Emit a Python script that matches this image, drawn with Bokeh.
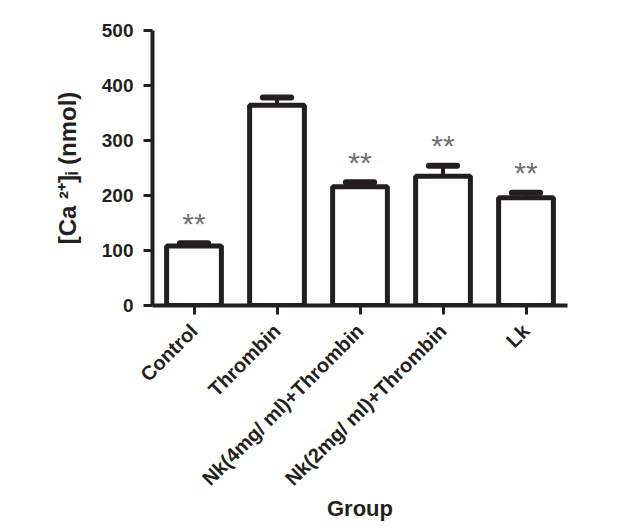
import math
from bokeh.plotting import figure
from bokeh.models import Range1d, FixedTicker, ColumnDataSource
from bokeh.embed import file_html
from bokeh.resources import INLINE
from bokeh.core.properties import value

groups = ["Control", "Thrombin", "Nk(4mg/ ml)+Thrombin", "Nk(2mg/ ml)+Thrombin", "Lk"]
means = [108, 364, 216, 235, 196]
sems = [5, 14, 8, 19, 9]
marks = ["**", "", "**", "**", "**"]
y_ticks = [0, 100, 200, 300, 400, 500]

FONT = "Liberation Sans"
INK = "#231f20"

xs = [i + 0.5 for i in range(len(groups))]
tops = [m + s for m, s in zip(means, sems)]
src = ColumnDataSource(dict(
    x=xs, mean=means, top=tops,
    cap0=[x - 0.17 for x in xs], cap1=[x + 0.17 for x in xs],
    mark=marks,
))

p = figure(width=606, height=532, output_backend="svg", toolbar_location=None,
           x_range=Range1d(0, len(groups)), y_range=Range1d(0, 500),
           min_border_left=152, min_border_right=39, min_border_top=30, min_border_bottom=227)
p.outline_line_color = None
p.xgrid.grid_line_color = None
p.ygrid.grid_line_color = None
p.background_fill_color = "white"
p.border_fill_color = "white"

p.vbar(x="x", top="mean", bottom=0, width=0.66, source=src,
       fill_color="white", line_color=INK, line_width=5)
p.segment(x0="x", y0="mean", x1="x", y1="top", source=src, line_color=INK, line_width=4)
p.segment(x0="cap0", y0="top", x1="cap1", y1="top", source=src, line_color=INK,
          line_width=6, line_cap="round")
p.text(x="x", y="top", text="mark", source=src, text_font=value(FONT),
       text_font_size="30px", text_color="#707070", text_align="center",
       text_baseline="middle", y_offset=-20)

xa = p.xaxis[0]
xa.ticker = FixedTicker(ticks=xs)
xa.major_label_overrides = {x: g for x, g in zip(xs, groups)}
xa.major_label_orientation = math.pi / 4
xa.axis_label = "Group"

ya = p.yaxis[0]
ya.ticker = FixedTicker(ticks=y_ticks)
ya.axis_label = "[Ca ²⁺]ᵢ (nmol)"

for ax in (xa, ya):
    ax.axis_line_width = 4
    ax.axis_line_color = INK
    ax.major_tick_line_width = 3
    ax.major_tick_line_color = INK
    ax.major_tick_out = 9
    ax.major_tick_in = 0
    ax.minor_tick_line_color = None
    ax.major_label_text_font = FONT
    ax.major_label_text_font_style = "bold"
    ax.major_label_text_color = INK
    ax.axis_label_text_font = FONT
    ax.axis_label_text_font_style = "bold"
    ax.axis_label_text_color = INK

xa.major_label_text_font_size = "20px"
xa.major_label_standoff = 13
xa.axis_label_text_font_size = "22px"
xa.axis_label_standoff = -4
ya.major_label_text_font_size = "19px"
ya.major_label_standoff = 10
ya.axis_label_text_font_size = "24px"
ya.axis_label_standoff = 18

open("out.html", "w").write(file_html(p, INLINE))
